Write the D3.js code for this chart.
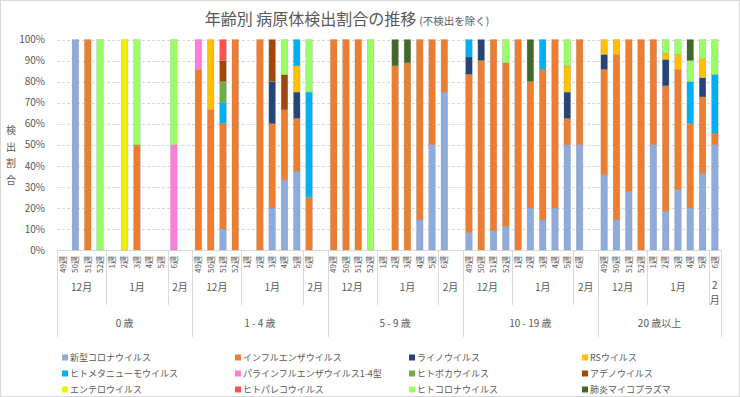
<!DOCTYPE html>
<html>
<head>
<meta charset="utf-8">
<script src="https://cdn.jsdelivr.net/npm/d3@7"></script>
<style>
  body { margin: 0; background: #fff; }
  text { font-family: "Noto Sans CJK JP", "Noto Sans", sans-serif; fill: #595959; }
</style>
</head>
<body>
<svg id="chart" width="740" height="397"></svg>
<script>
// categories
const ageGroups = ['0 歳', '1 - 4 歳', '5 - 9 歳', '10 - 19 歳', '20 歳以上'];
const weeks = ['49週', '50週', '51週', '52週', '1週', '2週', '3週', '4週', '5週', '6週'];
const monthOfWeek = ['12月', '12月', '12月', '12月', '1月', '1月', '1月', '1月', '1月', '2月'];

const seriesNames = ['新型コロナウイルス', 'インフルエンザウイルス', 'ライノウイルス', 'RSウイルス',
  'ヒトメタニューモウイルス', 'パラインフルエンザウイルス1-4型', 'ヒトボカウイルス', 'アデノウイルス',
  'エンテロウイルス', 'ヒトパレコウイルス', 'ヒトコロナウイルス', '肺炎マイコプラズマ'];
const seriesColors = ['#8faadc', '#ed7d31', '#264478', '#ffc000',
  '#00b0f0', '#ff7ddc', '#70ad47', '#9e480e',
  '#f5f000', '#ff5050', '#99ff66', '#43682b'];

// percent, 5 age groups x 10 weeks (49,50,51,52,1,2,3,4,5,6)
const covid = [
  0, 100, 0, 0, 0, 0, 0, 0, 0, 0,
  0, 0, 10, 0, 0, 0, 20, 33.3, 37.5, 0,
  0, 0, 0, 0, 0, 0, 0, 14.3, 50, 75,
  8.3, 0, 9.1, 11.1, 0, 20, 14.3, 20, 50, 50,
  35.7, 14.3, 27.8, 0, 50, 18.5, 28.6, 20, 36.4, 50];
const flu = [
  0, 0, 100, 0, 0, 0, 50, 0, 0, 0,
  85.7, 66.7, 50, 100, 0, 100, 40, 33.3, 25, 25,
  100, 100, 100, 0, 0, 87.5, 88.9, 85.7, 50, 25,
  75, 90, 90.9, 77.8, 100, 60, 71.4, 80, 12.5, 50,
  50, 78.6, 72.2, 100, 50, 59.5, 57.1, 40, 36.4, 5.6];
const rhino = [
  0, 0, 0, 0, 0, 0, 0, 0, 0, 0,
  0, 0, 0, 0, 0, 0, 20, 0, 12.5, 0,
  0, 0, 0, 0, 0, 0, 0, 0, 0, 0,
  8.3, 10, 0, 0, 0, 0, 0, 0, 12.5, 0,
  7.1, 0, 0, 0, 0, 12.5, 0, 0, 9.1, 0];
const rsv = [
  0, 0, 0, 0, 0, 0, 0, 0, 0, 0,
  0, 33.3, 0, 0, 0, 0, 0, 0, 12.5, 0,
  0, 0, 0, 0, 0, 0, 0, 0, 0, 0,
  0, 0, 0, 0, 0, 0, 0, 0, 12.5, 0,
  7.1, 7.1, 0, 0, 0, 3, 7.1, 0, 9.1, 0];
const hmpv = [
  0, 0, 0, 0, 0, 0, 0, 0, 0, 0,
  0, 0, 10, 0, 0, 0, 0, 0, 12.5, 50,
  0, 0, 0, 0, 0, 0, 0, 0, 0, 0,
  8.3, 0, 0, 0, 0, 0, 14.3, 0, 0, 0,
  0, 0, 0, 0, 0, 0, 0, 20, 0, 27.8];
const paraflu = [
  0, 0, 0, 0, 0, 0, 0, 0, 0, 50,
  14.3, 0, 0, 0, 0, 0, 0, 0, 0, 0,
  0, 0, 0, 0, 0, 0, 0, 0, 0, 0,
  0, 0, 0, 0, 0, 0, 0, 0, 0, 0,
  0, 0, 0, 0, 0, 0, 0, 0, 0, 0];
const boca = [
  0, 0, 0, 0, 0, 0, 0, 0, 0, 0,
  0, 0, 10, 0, 0, 0, 0, 0, 0, 0,
  0, 0, 0, 0, 0, 0, 0, 0, 0, 0,
  0, 0, 0, 0, 0, 0, 0, 0, 0, 0,
  0, 0, 0, 0, 0, 0, 0, 0, 0, 0];
const adeno = [
  0, 0, 0, 0, 0, 0, 0, 0, 0, 0,
  0, 0, 10, 0, 0, 0, 20, 16.7, 0, 0,
  0, 0, 0, 0, 0, 0, 0, 0, 0, 0,
  0, 0, 0, 0, 0, 0, 0, 0, 0, 0,
  0, 0, 0, 0, 0, 0, 0, 0, 0, 0];
const entero = [
  0, 0, 0, 0, 0, 100, 0, 0, 0, 0,
  0, 0, 0, 0, 0, 0, 0, 0, 0, 0,
  0, 0, 0, 0, 0, 0, 0, 0, 0, 0,
  0, 0, 0, 0, 0, 0, 0, 0, 0, 0,
  0, 0, 0, 0, 0, 0, 0, 0, 0, 0];
const parecho = [
  0, 0, 0, 0, 0, 0, 0, 0, 0, 0,
  0, 0, 10, 0, 0, 0, 0, 0, 0, 0,
  0, 0, 0, 0, 0, 0, 0, 0, 0, 0,
  0, 0, 0, 0, 0, 0, 0, 0, 0, 0,
  0, 0, 0, 0, 0, 0, 0, 0, 0, 0];
const hcov = [
  0, 0, 0, 100, 0, 0, 50, 0, 0, 50,
  0, 0, 0, 0, 0, 0, 0, 16.7, 0, 25,
  0, 0, 0, 100, 0, 0, 0, 0, 0, 0,
  0, 0, 0, 11.1, 0, 0, 0, 0, 12.5, 0,
  0, 0, 0, 0, 0, 6.5, 7.1, 10, 9.1, 16.7];
const myco = [
  0, 0, 0, 0, 0, 0, 0, 0, 0, 0,
  0, 0, 0, 0, 0, 0, 0, 0, 0, 0,
  0, 0, 0, 0, 0, 12.5, 11.1, 0, 0, 0,
  0, 0, 0, 0, 0, 20, 0, 0, 0, 0,
  0, 0, 0, 0, 0, 0, 0, 10, 0, 0];

const seriesValues = [covid, flu, rhino, rsv, hmpv, paraflu, boca, adeno, entero, parecho, hcov, myco];

// build slots: each age group gets its 10 weeks, plus an empty slot after (except last)
const slots = [];
ageGroups.forEach((g, gi) => {
  weeks.forEach((w, wi) => {
    const row = { id: gi + '-' + wi, g: gi, w: wi };
    seriesValues.forEach((arr, si) => { row['s' + si] = arr[gi * 10 + wi]; });
    slots.push(row);
  });
  if (gi < ageGroups.length - 1) {
    const pad = { id: gi + '-pad', g: gi, w: null };
    seriesValues.forEach((arr, si) => { pad['s' + si] = 0; });
    slots.push(pad);
  }
});

const svg = d3.select('#chart');
const plotLeft = 57, plotRight = 721, plotTop = 39.5, plotBottom = 250;

svg.append('rect')
  .attr('x', 0.5).attr('y', 0.5).attr('width', 739).attr('height', 396)
  .attr('fill', '#fff').attr('stroke', '#d9d9d9');

const x = d3.scaleBand()
  .domain(slots.map(d => d.id))
  .range([plotLeft, plotRight])
  .paddingInner(0.46)
  .paddingOuter(0.23);
const y = d3.scaleLinear().domain([0, 1]).range([plotBottom, plotTop]);
const step = x.step();
const bw = x.bandwidth();
const slotLeft = id => x(id) - (step - bw) / 2;

// title
const title = svg.append('text')
  .attr('x', 347).attr('y', 25)
  .attr('text-anchor', 'middle');
title.append('tspan').attr('font-size', 16).text('年齢別 病原体検出割合の推移');
title.append('tspan').attr('font-size', 10.5).attr('dx', 3).text('(不検出を除く)');

// gridlines
svg.append('g')
  .selectAll('line')
  .data(y.ticks(10))
  .join('line')
  .attr('x1', plotLeft).attr('x2', plotRight)
  .attr('y1', d => Math.round(y(d)) + 0.5).attr('y2', d => Math.round(y(d)) + 0.5)
  .attr('stroke', '#d9d9d9')
  .attr('stroke-dasharray', d => d === 0 ? null : '3,2');

// y axis
const yAxis = svg.append('g')
  .attr('transform', `translate(${plotLeft - 9},0)`)
  .call(d3.axisLeft(y).ticks(10).tickFormat(d3.format('.0%')).tickSize(0).tickPadding(3));
yAxis.select('.domain').remove();
yAxis.selectAll('text')
  .attr('font-size', 10)
  .style('font-family', '"Noto Sans CJK JP", "Noto Sans", sans-serif')
  .attr('fill', '#595959');

// y axis title, stacked characters
svg.append('g')
  .selectAll('text')
  .data(['検', '出', '割', '合'])
  .join('text')
  .attr('x', 11).attr('y', (d, i) => 134 + i * 16.5)
  .attr('text-anchor', 'middle')
  .attr('font-size', 10)
  .text(d => d);

// stacked bars
const keys = seriesNames.map((n, i) => 's' + i);
const stacked = d3.stack().keys(keys).offset(d3.stackOffsetExpand)(slots);

svg.append('g')
  .selectAll('g')
  .data(stacked)
  .join('g')
  .attr('fill', (d, i) => seriesColors[i])
  .selectAll('rect')
  .data(d => d.filter(p => p[1] - p[0] > 0))
  .join('rect')
  .attr('x', p => x(p.data.id))
  .attr('width', bw)
  .attr('y', p => y(p[1]))
  .attr('height', p => y(p[0]) - y(p[1]))
  .attr('stroke', 'rgba(140,140,140,0.45)')
  .attr('stroke-width', 0.5);

// week labels
svg.append('g')
  .selectAll('text')
  .data(slots.filter(d => d.w !== null))
  .join('text')
  .attr('transform', d => `translate(${x(d.id) + bw / 2},256) rotate(-90)`)
  .attr('text-anchor', 'end')
  .attr('dy', '0.35em')
  .attr('font-size', 8)
  .text(d => weeks[d.w]);

// month groups and separators
const monthSpans = [];
ageGroups.forEach((g, gi) => {
  const groupSlots = slots.filter(s => s.g === gi);
  ['12月', '1月', '2月'].forEach(m => {
    const inMonth = groupSlots.filter(s => s.w !== null ? monthOfWeek[s.w] === m : m === '2月');
    const x0 = slotLeft(inMonth[0].id);
    const x1 = slotLeft(inMonth[inMonth.length - 1].id) + step;
    monthSpans.push({ g: gi, m, x0, x1 });
  });
});

const sep = svg.append('g').attr('stroke', '#d9d9d9');
monthSpans.forEach(s => {
  const isGroupStart = s.m === '12月';
  sep.append('line')
    .attr('x1', Math.round(s.x0) + 0.5).attr('x2', Math.round(s.x0) + 0.5)
    .attr('y1', plotBottom).attr('y2', isGroupStart ? 337 : 305);
});
sep.append('line')
  .attr('x1', plotRight + 0.5).attr('x2', plotRight + 0.5)
  .attr('y1', plotBottom).attr('y2', 337);

const monthG = svg.append('g');
monthSpans.forEach(s => {
  const cx = (s.x0 + s.x1) / 2;
  if (s.x1 - s.x0 < 20) {
    // narrow span: wrap the label
    monthG.append('text').attr('x', cx).attr('y', 289).attr('text-anchor', 'middle')
      .attr('font-size', 10).text(s.m.slice(0, -1));
    monthG.append('text').attr('x', cx).attr('y', 304).attr('text-anchor', 'middle')
      .attr('font-size', 10).text(s.m.slice(-1));
  } else {
    monthG.append('text').attr('x', cx).attr('y', 291).attr('text-anchor', 'middle')
      .attr('font-size', 10).text(s.m);
  }
});

// age group labels
svg.append('g')
  .selectAll('text')
  .data(ageGroups)
  .join('text')
  .attr('x', (d, gi) => {
    const spans = monthSpans.filter(s => s.g === gi);
    return (spans[0].x0 + spans[spans.length - 1].x1) / 2;
  })
  .attr('y', 327)
  .attr('text-anchor', 'middle')
  .attr('font-size', 10)
  .text(d => d);

// legend
const legendCols = [62, 235, 409, 582];
const legendRows = [358, 374, 390];
const legend = svg.append('g')
  .selectAll('g')
  .data(seriesNames)
  .join('g')
  .attr('transform', (d, i) => `translate(${legendCols[i % 4]},${legendRows[Math.floor(i / 4)]})`);
legend.append('rect')
  .attr('x', 0).attr('y', -3.5).attr('width', 6).attr('height', 6)
  .attr('fill', (d, i) => seriesColors[i]);
legend.append('text')
  .attr('x', 8).attr('dy', '0.35em')
  .attr('font-size', 9)
  .text(d => d);
</script>
</body>
</html>
